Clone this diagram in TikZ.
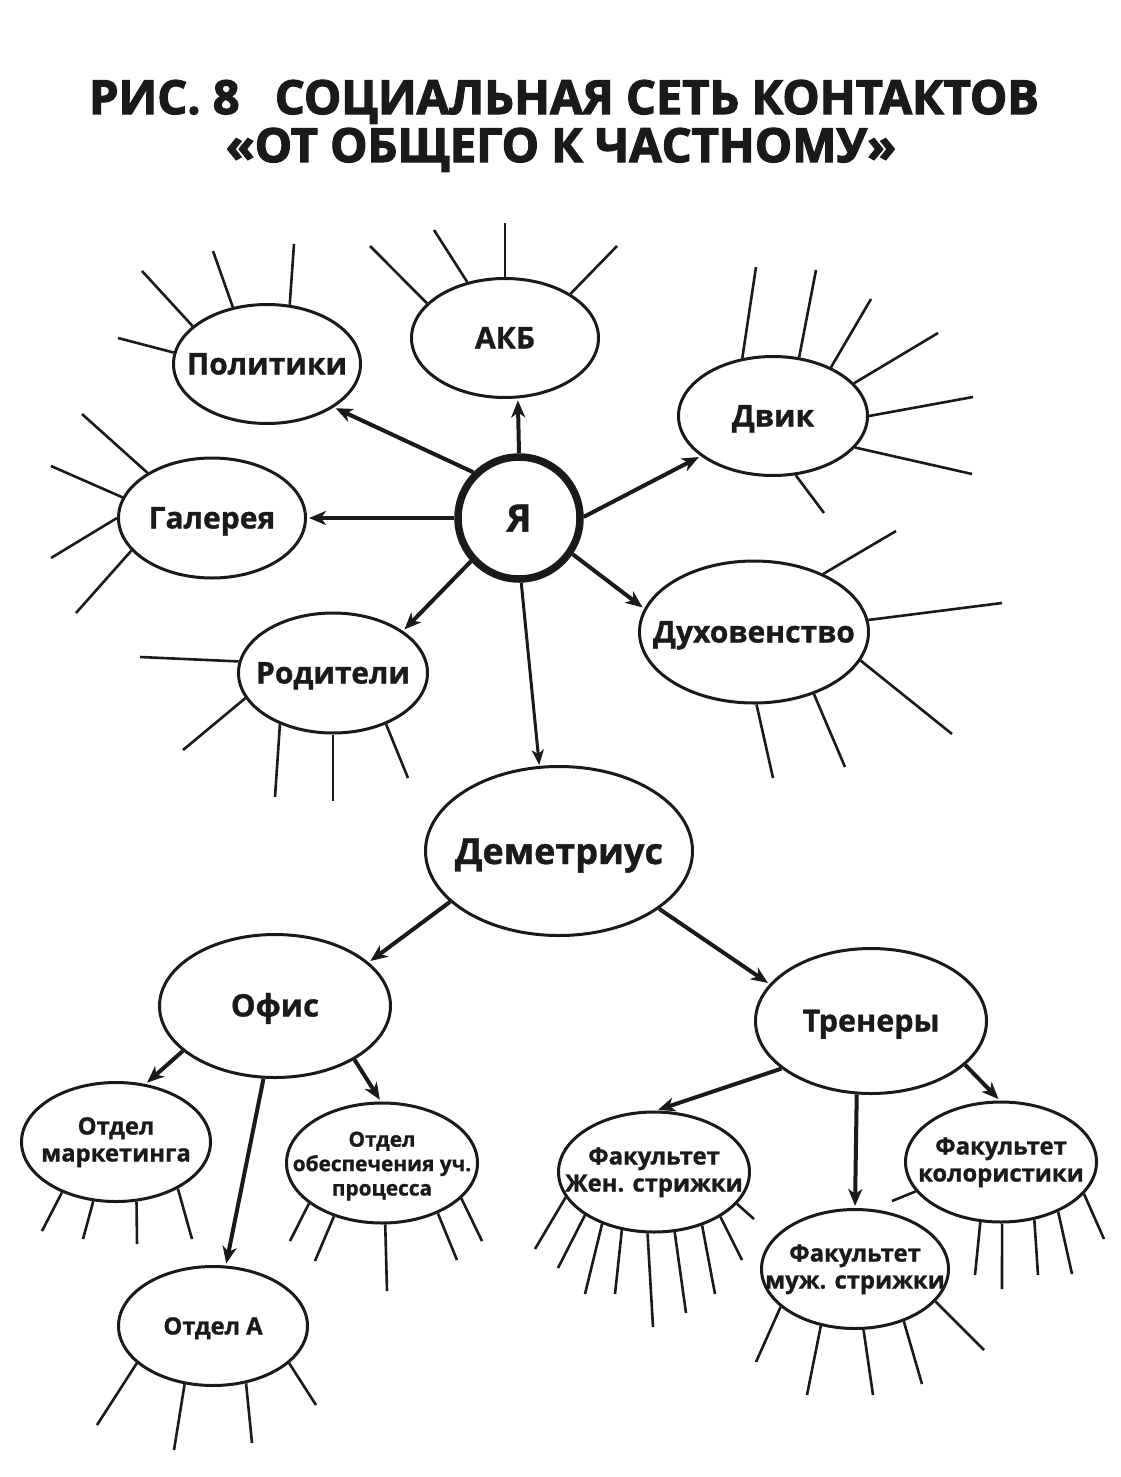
\documentclass[tikz,border=0pt]{standalone}
\usepackage{fontspec}
\setmainfont{Open Sans}[BoldFeatures={FakeBold=1}]
\newfontfamily\tfont{Open Sans}[BoldFeatures={FakeBold=2.6}]
\usetikzlibrary{shapes.geometric,arrows.meta}
\definecolor{ink}{RGB}{26,26,26}
\tikzset{
  ell/.style={ellipse, draw=ink, line width=3pt, inner sep=0pt, fill=white},
  lblA/.style={font=\bfseries\fontsize{30}{35}\selectfont, text=ink, align=center, inner sep=0pt, text height=21pt, text depth=0pt},
  lblB/.style={font=\bfseries\fontsize{23.8}{27}\selectfont, text=ink, align=center, inner sep=0pt, text height=17pt, text depth=0pt},
  lblC/.style={font=\bfseries\fontsize{20.8}{24.4}\selectfont, text=ink, align=center, inner sep=0pt, text height=15pt, text depth=0pt},
  spoke/.style={draw=ink, line width=2.6pt},
  arr/.style={draw=ink, line width=4pt, -{Stealth[length=17pt,width=14pt,inset=5pt]}, shorten >=2pt},
  arrthin/.style={draw=ink, line width=3pt, -{Stealth[length=15pt,width=12pt,inset=4pt]}, shorten >=1pt},
  ttl/.style={anchor=base, font=\tfont\bfseries\fontsize{47}{50}\selectfont, text=ink, inner sep=0pt},
}
\begin{document}
\begin{tikzpicture}[x=1pt,y=-1pt]
\useasboundingbox (0,0) rectangle (1121,1477);
\fill[white] (0,0) rectangle (1121,1477);

% title
\node[ttl] (t1) at (564,114) {РИС. 8\hspace{0.75em}СОЦИАЛЬНАЯ СЕТЬ КОНТАКТОВ};
\node[ttl] (t2) at (561,162) {«ОТ ОБЩЕГО К ЧАСТНОМУ»};

% nodes
\node[ell, minimum width=187pt, minimum height=119pt, label={[lblA]center:Политики}] (pol) at (267,364) {};
\node[ell, minimum width=187pt, minimum height=119pt, label={[lblA]center:АКБ}] (akb) at (505,338) {};
\node[ell, minimum width=189pt, minimum height=119pt, label={[lblA]center:Двик}] (dv) at (773,416) {};
\node[ell, minimum width=187pt, minimum height=120pt, label={[lblA]center:Галерея}] (gal) at (212,518) {};
\node[ell, minimum width=229pt, minimum height=142pt, label={[lblA]center:Духовенство}] (duh) at (754,632) {};
\node[ell, minimum width=189pt, minimum height=120pt, label={[lblA]center:Родители}] (rod) at (333,673) {};
\node[ell, minimum width=267pt, minimum height=169pt, label={[lblA, font=\bfseries\fontsize{36}{40}\selectfont, text height=26pt]center:Деметриус}] (dem) at (559,851) {};
\node[ell, minimum width=231pt, minimum height=143pt, label={[lblA, font=\bfseries\fontsize{31}{36}\selectfont]center:Офис}] (of) at (275,1006) {};
\node[ell, minimum width=231pt, minimum height=145pt, label={[lblA, font=\bfseries\fontsize{30.5}{36}\selectfont]center:Тренеры}] (tr) at (871,1021) {};
\node[ell, minimum width=189pt, minimum height=119pt, label={[lblB, yshift=-11pt]center:Отдел\\маркетинга}] (mk) at (116,1142) {};
\node[ell, minimum width=189pt, minimum height=119pt, label={[lblB]center:Отдел А}] (oa) at (213,1326) {};
\node[ell, minimum width=191pt, minimum height=120pt, label={[lblC, yshift=-25pt]center:Отдел\\обеспечения уч.\\процесса}] (ob) at (382,1163) {};
\node[ell, minimum width=191pt, minimum height=120pt, label={[lblB, yshift=-11pt]center:Факультет\\Жен. стрижки}] (fz) at (654,1172) {};
\node[ell, minimum width=187pt, minimum height=119pt, label={[lblB, yshift=-11pt]center:Факультет\\муж. стрижки}] (fm) at (855,1269) {};
\node[ell, minimum width=191pt, minimum height=120pt, label={[lblB, yshift=-11pt]center:Факультет\\колористики}] (fk) at (1001,1162) {};
\node[circle, draw=ink, line width=7.5pt, minimum size=122pt, inner sep=0pt, fill=white, text=ink, font=\bfseries\fontsize{38}{42}\selectfont] (ya) at (519,518) {Я};

% spokes
\draw[spoke] (pol.173.3) -- (118,338);
\draw[spoke] (pol.153.4) -- (142,271);
\draw[spoke] (pol.121.6) -- (213,251);
\draw[spoke] (pol.69) -- (294,244);

\draw[spoke] (akb.156.4) -- (370,246);
\draw[spoke] (akb.124.4) -- (434,230);
\draw[spoke] (akb.90) -- (505,223);
\draw[spoke] (akb.34.3) -- (617,246);

\draw[spoke] (dv.118.1) -- (756,267);
\draw[spoke] (dv.66.2) -- (816,270);
\draw[spoke] (dv.40.8) -- (871,299);
\draw[spoke] (dv.22.3) -- (938,333);
\draw[spoke] (dv.-0.6) -- (973,397);
\draw[spoke] (dv.-21.2) -- (972,474);
\draw[spoke] (dv.-69.6) -- (824,513);

\draw[spoke] (gal.145.3) -- (82,414);
\draw[spoke] (gal.167) -- (51,466);
\draw[spoke] (gal.180) -- (51,558);
\draw[spoke] (gal.202.5) -- (76,613);

\draw[spoke] (duh.40.2) -- (896,531);
\draw[spoke] (duh.6.8) -- (1002,603);
\draw[spoke] (duh.-15.5) -- (952,734);
\draw[spoke] (duh.-46.4) -- (845,767);
\draw[spoke] (duh.-88.5) -- (773,778);

\draw[spoke] (rod.173.4) -- (140,657);
\draw[spoke] (rod.196.1) -- (183,750);
\draw[spoke] (rod.224.5) -- (275,797);
\draw[spoke] (rod.270) -- (333,801);
\draw[spoke] (rod.-44.5) -- (408,778);

\draw[spoke] (mk.223.9) -- (42,1231);
\draw[spoke] (mk.249) -- (83,1239);
\draw[spoke] (mk.-71.8) -- (137,1244);
\draw[spoke] (mk.-37.3) -- (192,1239);

\draw[spoke] (oa.206) -- (97,1425);
\draw[spoke] (oa.244.6) -- (174,1450);
\draw[spoke] (oa.-60.8) -- (252,1443);
\draw[spoke] (oa.-26) -- (316,1405);

\draw[spoke] (ob.209) -- (290,1241);
\draw[spoke] (ob.228.9) -- (315,1261);
\draw[spoke] (ob.-87) -- (387,1291);
\draw[spoke] (ob.-42.3) -- (457,1260);
\draw[spoke] (ob.-24.2) -- (482,1241);

\draw[spoke] (fz.196.5) -- (535,1249);
\draw[spoke] (fz.212.9) -- (558,1268);
\draw[spoke] (fz.225) -- (585,1294);
\draw[spoke] (fz.241.9) -- (615,1294);
\draw[spoke] (fz.264.5) -- (653,1327);
\draw[spoke] (fz.-71) -- (686,1313);
\draw[spoke] (fz.-48.4) -- (715,1294);
\draw[spoke] (fz.-34.1) -- (742,1260);
\draw[spoke] (fz.-21.4) -- (754,1219);

\draw[spoke] (fm.207.5) -- (756,1362);
\draw[spoke] (fm.239.3) -- (807,1395);
\draw[spoke] (fm.-82.6) -- (873,1395);
\draw[spoke] (fm.-47.2) -- (922,1384);
\draw[spoke] (fm.-22.3) -- (984,1350);

\draw[spoke] (fk.199.2) -- (892,1201);
\draw[spoke] (fk.251) -- (975,1275);
\draw[spoke] (fk.-89) -- (1002,1289);
\draw[spoke] (fk.-60.8) -- (1038,1275);
\draw[spoke] (fk.-41.3) -- (1072,1274);
\draw[spoke] (fk.-21.2) -- (1104,1239);

% arrows
\draw[arr] (ya.135) -- (pol.-33.1);
\draw[arr] (ya.90) -- (akb.-78.7);
\draw[arr] (ya.1.7) -- (dv.209.9);
\draw[arr] (ya.180) -- (gal.0);
\draw[arr] (ya.-34) -- (duh.168.4);
\draw[arr] (ya.222.6) -- (rod.31.2);
\draw[arrthin] (ya.-88) -- (dem.103.1);
\draw[arr] (dem.205.1) -- (of.25.8);
\draw[arr] (dem.-30.8) -- (tr.160.4);
\draw[arr] (of.206.6) -- (mk.63.4);
\draw[arr] (of.261.4) -- (oa.78.3);
\draw[arr] (of.-34.8) -- (ob.91.8);
\draw[arr] (tr.208.1) -- (fz.88);
\draw[arr] (tr.259.4) -- (fm.90);
\draw[arr] (tr.-25.6) -- (fk.91.9);
\end{tikzpicture}
\end{document}
